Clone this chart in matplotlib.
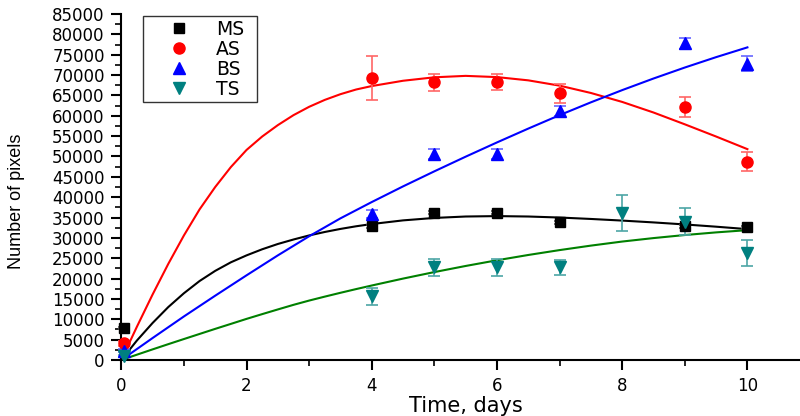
import matplotlib
matplotlib.use("Agg")
import matplotlib.pyplot as plt
from matplotlib.ticker import MultipleLocator

plt.rcParams['font.family'] = ['DejaVu Sans']

# ---- observed data ----
t_obs = [0.04, 4, 5, 6, 7, 9, 10]
ms_val = [7800, 32800, 36200, 36200, 33800, 32800, 32600]
ms_err = [300, 400, 400, 400, 400, 400, 400]
as_val = [4100, 69300, 68200, 68300, 65500, 62100, 48700]
as_err = [600, 5500, 2000, 2000, 2300, 2500, 2300]
bs_val = [2300, 35800, 50600, 50600, 61200, 77800, 72800]
bs_err = [300, 1000, 1200, 1200, 1300, 1300, 1900]
t_ts = [0.04, 4, 5, 6, 7, 8, 9, 10]
ts_val = [1000, 15700, 22800, 22800, 22800, 36200, 34000, 26300]
ts_err = [300, 2100, 2100, 2100, 1850, 4400, 3300, 3200]

# ---- fitted curves ----
t_fit = [0, 0.25, 0.5, 0.75, 1, 1.25, 1.5, 1.75, 2, 2.25, 2.5, 2.75, 3,
         3.25, 3.5, 3.75, 4, 4.5, 5, 5.5, 6, 6.5, 7, 7.5, 8, 8.5, 9, 9.5, 10]
ms_fit = [0, 4800, 9100, 13000, 16400, 19400, 21900, 24000, 25700, 27200,
          28500, 29600, 30600, 31450, 32200, 32850, 33400, 34300, 34900,
          35250, 35350, 35250, 35000, 34650, 34250, 33800, 33300, 32750, 32150]
as_fit = [0, 8200, 16100, 23600, 30600, 37000, 42500, 47400, 51600, 54900,
          57700, 60150, 62200, 63900, 65300, 66450, 67300, 68600, 69450,
          69800, 69500, 68700, 67400, 65600, 63400, 60800, 57900, 54900, 51800]
bs_fit = [0, 2700, 5400, 8050, 10700, 13250, 15800, 18300, 20800, 23250,
          25700, 28050, 30400, 32600, 34800, 36800, 38800, 42650, 46350,
          49950, 53450, 56850, 60150, 63300, 66300, 69150, 71850, 74400, 76800]
ts_fit = [0, 1310, 2610, 3890, 5150, 6400, 7650, 8870, 10100, 11270, 12420,
          13550, 14600, 15570, 16510, 17420, 18300, 20000, 21600, 23100,
          24500, 25800, 27000, 28100, 29100, 29950, 30700, 31350, 31900]

x_ticks = [0, 2, 4, 6, 8, 10]
y_ticks = list(range(0, 85001, 5000))

fig = plt.figure(figsize=(8, 4.16), dpi=100)
ax = fig.add_axes([121.3 / 800, 56 / 416, 678.7 / 800, 346 / 416])

# fit lines
ax.plot(t_fit, ms_fit, color='black', lw=1.5, zorder=2)
ax.plot(t_fit, as_fit, color='#ff0000', lw=1.5, zorder=2)
ax.plot(t_fit, bs_fit, color='#0000ff', lw=1.5, zorder=2)
ax.plot(t_fit, ts_fit, color='#008000', lw=1.5, zorder=2)


def series(t, v, e, color, ecolor, marker, ms, label):
    ax.errorbar(t, v, yerr=e, fmt='none', ecolor=ecolor, elinewidth=1.2,
                capsize=4.2, capthick=1.2, zorder=3, clip_on=False)
    ax.plot(t, v, linestyle='none', marker=marker, color=color,
            markersize=ms, label=label, zorder=4, clip_on=False)


series(t_obs, ms_val, ms_err, 'black', '#606060', 's', 7, 'MS')
series(t_obs, as_val, as_err, '#ff0000', '#ff6666', 'o', 8, 'AS')
series(t_obs, bs_val, bs_err, '#0000ff', '#6666ff', '^', 9, 'BS')
series(t_ts, ts_val, ts_err, '#008080', '#4da6a6', 'v', 9, 'TS')

ax.set_xlim(0, 10.84)
ax.set_ylim(0, 85000)
ax.set_xticks(x_ticks)
ax.set_yticks(y_ticks)
ax.xaxis.set_minor_locator(MultipleLocator(1))
ax.yaxis.set_minor_locator(MultipleLocator(2500))
for s in ['top', 'right']:
    ax.spines[s].set_visible(False)
for s in ['left', 'bottom']:
    ax.spines[s].set_linewidth(1.5)
ax.tick_params(which='major', direction='out', length=7, width=1.5,
               labelsize=12, pad=5)
ax.tick_params(which='minor', direction='out', length=4, width=1.2)

leg = ax.legend(loc='upper left', bbox_to_anchor=(0.032, 0.6, 0.168, 0.394),
                mode='expand', borderaxespad=0, fontsize=13.5, frameon=True,
                fancybox=False, edgecolor='black', labelspacing=0.05,
                borderpad=0.2, handletextpad=0.3, handlelength=3.4)
leg.get_frame().set_linewidth(1.0)

fig.text(466 / 800, 3.5 / 416, 'Time, days', ha='center', va='baseline',
         fontsize=15)
fig.text(16.5 / 800, 1 - 201.5 / 416, 'Number of pixels', rotation=90,
         ha='center', va='center', fontsize=13, family='Liberation Sans')

fig.savefig('out.png', dpi=100)
